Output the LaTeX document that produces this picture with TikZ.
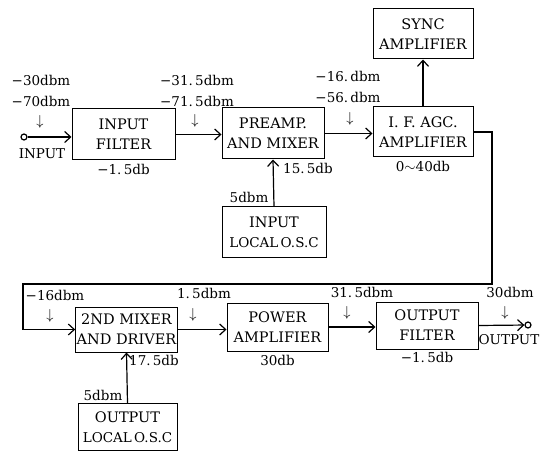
\documentclass[tikz,border=0pt]{standalone}
\usepackage{fontspec}
\setmainfont{DejaVu Serif}
\usetikzlibrary{arrows.meta,positioning}
\tikzset{
  block/.style={
    rectangle,
    draw,
    line width=1pt,
    align=center,
    inner sep=1pt,
    font=\fontsize{14.5}{20}\selectfont
  },
  lbl/.style={inner sep=0pt, font=\fontsize{13.5}{15}\selectfont},
  arrow/.style={-{Straight Barb[length=6pt,width=11pt]}, line width=1.2pt},
  term/.style={circle, draw, line width=1.2pt, inner sep=0pt, minimum size=6pt}
}

\begin{document}
\begin{tikzpicture}[x=1pt,y=-1pt]
  \useasboundingbox (0,0) rectangle (558,452);

  \node[block, minimum width=103pt, minimum height=51pt] (infilter) at (123.5,134.5) {INPUT\\FILTER};
  \node[block, minimum width=102pt, minimum height=51pt] (preamp) at (273,133.5) {PREAMP.\\AND MIXER};
  \node[block, minimum width=104pt, minimum height=50pt] (inosc) at (274,232) {INPUT\\\fontsize{13.5}{20}\selectfont LOCAL\,O.S.C};
  \node[block, minimum width=100pt, minimum height=50pt] (sync) at (423,34) {SYNC\\AMPLIFIER};
  \node[block, minimum width=100pt, minimum height=50pt] (ifamp) at (423,132) {I. F. AGC.\\AMPLIFIER};
  \node[block, minimum width=99pt, minimum height=45pt] (mixer2) at (126.5,329.5) {2ND MIXER\\AND DRIVER};
  \node[block, minimum width=99pt, minimum height=47pt] (outosc) at (127.5,427) {OUTPUT\\\fontsize{13.5}{20}\selectfont LOCAL\,O.S.C};
  \node[block, minimum width=101pt, minimum height=48pt] (power) at (277.5,327) {POWER\\AMPLIFIER};
  \node[block, minimum width=102pt, minimum height=47pt] (outfilter) at (427,325.5) {OUTPUT\\FILTER};

  \node[term] (in) at (24,137) {};
  \node[term] (out) at (528,325) {};
  \coordinate (turn) at (492,284);
  \coordinate (back) at (23,284);

  \draw[arrow] (in) -- (in -| infilter.west);
  \draw[arrow] (infilter.east) -- (infilter.east -| preamp.west);
  \draw[arrow] (inosc.north) -- (preamp.south);
  \draw[arrow] (preamp.east) -- (preamp.east -| ifamp.west);
  \draw[arrow] (ifamp.north) -- (sync.south);
  \draw[arrow] (ifamp.east) -- (ifamp.east -| turn) -- (turn) -- (back) |- (mixer2.west);
  \draw[arrow] (outosc.north) -- (mixer2.south);
  \draw[arrow] (mixer2.east) -- (mixer2.east -| power.west);
  \draw[arrow] (power.east) -- (power.east -| outfilter.west);
  \draw[arrow] (outfilter.east) -- (out);

  \node[lbl] (l30) at (41,80) {−30dbm};
  \node[lbl] (l70) at (41,101) {−70dbm};
  \node[lbl] (d1) at (40,122) {$\downarrow$};
  \node[lbl] (inlbl) at (42,154) {INPUT};
  \node[lbl, below=4pt of infilter] (g1) {−1.\,5db};

  \node[lbl] (l31) at (197,80) {−31.\,5dbm};
  \node[lbl] (l71) at (197,101) {−71.\,5dbm};
  \node[lbl] (d2) at (195,121) {$\downarrow$};
  \node[lbl] (g2) at (308,168) {15.\,5db};
  \node[lbl] (p1) at (249,197) {5dbm};

  \node[lbl] (l16) at (348,76) {−16.\,dbm};
  \node[lbl] (l56) at (348,97) {−56.\,dbm};
  \node[lbl] (d3) at (350,119) {$\downarrow$};
  \node[lbl, below=4pt of ifamp] (g3) {0$\sim$40db};

  \node[lbl] (l16b) at (55,295) {−16dbm};
  \node[lbl] (d4) at (50,316) {$\downarrow$};
  \node[lbl] (g4) at (154,360) {17.\,5db};
  \node[lbl] (p2) at (103,395) {5dbm};

  \node[lbl] (l15) at (204,293) {1.\,5dbm};
  \node[lbl] (d5) at (193,315) {$\downarrow$};
  \node[lbl, below=4pt of power] (g5) {30db};

  \node[lbl] (l315) at (362,292) {31.\,5dbm};
  \node[lbl] (d6) at (347,313) {$\downarrow$};
  \node[lbl, below=3pt of outfilter] (g6) {−1.\,5db};

  \node[lbl] (l30b) at (510,292) {30dbm};
  \node[lbl] (d7) at (505,313) {$\downarrow$};
  \node[lbl] (outlbl) at (509,340) {OUTPUT};
\end{tikzpicture}
\end{document}
